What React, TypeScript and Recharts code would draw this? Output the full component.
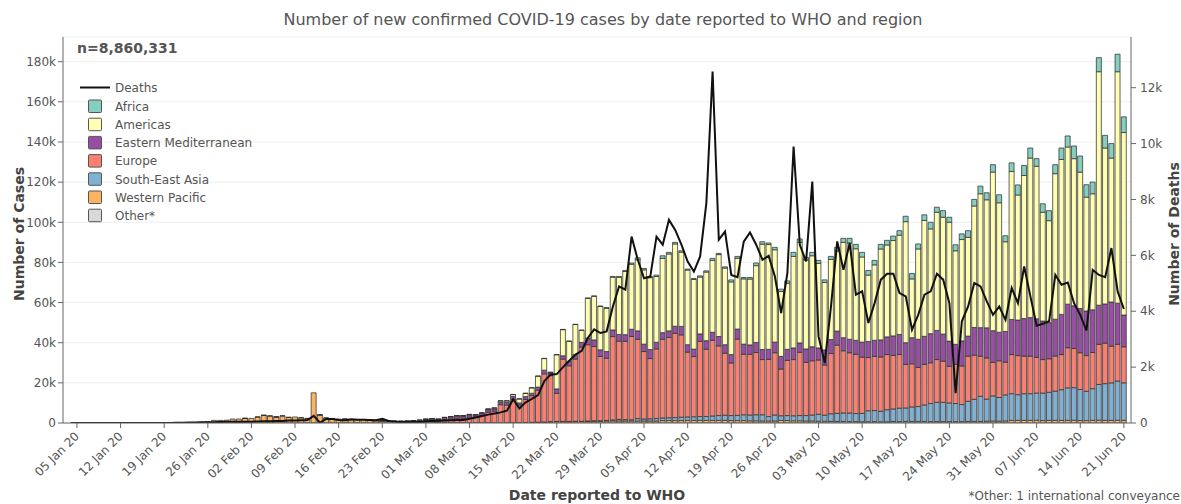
import { Bar, CartesianGrid, ComposedChart, Line, XAxis, YAxis } from 'recharts'

// Daily values from 04 Jan 20 to 21 Jun 20 (170 days)
const START_DAY = Date.UTC(2020, 0, 4)
const MONTHS = ['Jan', 'Feb', 'Mar', 'Apr', 'May', 'Jun']

const dateTicks = [
  '05 Jan 20', '12 Jan 20', '19 Jan 20', '26 Jan 20', '02 Feb 20', '09 Feb 20', '16 Feb 20',
  '23 Feb 20', '01 Mar 20', '08 Mar 20', '15 Mar 20', '22 Mar 20', '29 Mar 20', '05 Apr 20',
  '12 Apr 20', '19 Apr 20', '26 Apr 20', '03 May 20', '10 May 20', '17 May 20', '24 May 20',
  '31 May 20', '07 Jun 20', '14 Jun 20', '21 Jun 20',
]
const caseTicks = [0, 20000, 40000, 60000, 80000, 100000, 120000, 140000, 160000, 180000]
const deathTicks = [0, 2000, 4000, 6000, 8000, 10000, 12000]

const janNone = [0, 0, 0, 0, 0, 0, 0, 0, 0, 0, 0, 0, 0, 0, 0, 0, 0, 0, 0, 0, 0, 0, 0, 0, 0, 0, 0, 0]
const febNone = [0, 0, 0, 0, 0, 0, 0, 0, 0, 0, 0, 0, 0, 0, 0, 0, 0, 0, 0, 0, 0, 0, 0, 0, 0, 0, 0, 0, 0]

// only reported in Jan-Feb
const other = [
  ...janNone,
  0, 0, 0, 0, 10, 10, 41, 3, 6, 6, 65, 39, 44, 0, 67, 70, 99, 0, 88, 79, 13, 57, 0, 0, 14, 0, 14, 0, 0,
]

const westernPacific = [
  0, 0, 0, 0, 0, 0, 0, 41, 0, 0, 0, 0, 1, 4, 17, 136, 20, 151, 140, 97, 259, 441, 600, 1300, 1300, 1400, 2000, 2000,
  2300, 2300, 3000, 3800, 3500, 3000, 3500, 2800, 3000, 2600, 2200, 15000, 4000, 2500, 2100, 1900, 1900, 1500, 1700, 1700, 1300, 1100, 1000, 800, 700, 550, 500, 600, 550,
  600, 550, 300, 250, 200, 200, 150, 150, 150, 100, 100, 100, 100, 100, 150, 150, 200, 250, 350, 400, 600, 700, 700, 650, 750, 750, 800, 850, 850, 1000, 1050,
  1000, 1000, 1000, 1000, 1000, 1000, 1000, 1200, 1200, 1200, 1200, 1300, 1300, 1300, 1300, 1300, 1300, 1300, 1200, 1200, 1200, 1100, 1100, 1000, 1000, 1000, 1300, 1200, 1100, 1100,
  1000, 1000, 900, 900, 800, 800, 800, 700, 700, 600, 600, 700, 600, 600, 800, 700, 800, 800, 800, 800, 700, 700, 700, 700, 700, 700, 800, 800, 800, 900, 1000,
  900, 1000, 1300, 1300, 1300, 1300, 1400, 1200, 1300, 1300, 1300, 1300, 1400, 1200, 1200, 1300, 1400, 1300, 1300, 1400, 1300,
]

const southEastAsia = [
  ...janNone,
  ...febNone,
  1, 0, 2, 20, 10, 2, 5, 10, 10, 15, 15, 20, 20, 30, 30, 40, 40, 60, 50, 100, 100, 100, 100, 150, 100, 100, 200, 250, 300, 300, 500,
  800, 700, 600, 1200, 1000, 1100, 1200, 1300, 1400, 1500, 1700, 1700, 1800, 1900, 1900, 2200, 2400, 2600, 2500, 2600, 2900, 2900, 3000, 3100, 2200, 3000, 2300, 2500, 2500, 2600,
  2700, 3000, 3500, 3000, 3800, 4000, 4200, 4300, 4000, 4200, 5500, 5500, 5300, 6000, 6200, 6700, 6700, 7200, 7400, 8200, 9000, 9600, 9600, 9300, 9000, 8500, 10000, 11000, 12500, 11000, 12500,
  11800, 13000, 13300, 12800, 13300, 13300, 13500, 13700, 14000, 14600, 15300, 16200, 16200, 15500, 14600, 15800, 17800, 18300, 18700, 19500, 18700,
]

const europe = [
  ...janNone,
  2, 0, 1, 1, 2, 3, 1, 5, 0, 4, 1, 0, 1, 2, 1, 0, 1, 0, 0, 0, 1, 20, 80, 110, 150, 200, 250, 350, 500,
  700, 900, 800, 1500, 1800, 2200, 2200, 2700, 2900, 3600, 5200, 5800, 9000, 8800, 11500, 8800, 11500, 13300, 16000, 24000, 22900, 14000, 31000, 27700, 31000, 37000, 38000, 37000, 32000, 31000, 41500,
  39000, 39000, 41500, 39500, 33600, 30000, 34700, 39200, 40000, 42000, 41000, 32300, 30000, 37500, 33600, 37700, 34700, 30900, 26200, 38000, 30200, 30200, 31000, 27500, 28500, 31000, 23300, 27500, 28000, 31500,
  26500, 27000, 27000, 25000, 30000, 34000, 31000, 30000, 29500, 28000, 26500, 27000, 27000, 27500, 26700, 26700, 21700, 21500, 19500, 20200, 20300, 21300, 20500, 18300, 19500, 19200, 22500, 22000, 20000, 20500, 16700,
  18300, 16300, 19500, 19500, 18700, 18700, 17800, 16700, 16700, 17500, 17500, 20000, 19500, 18300, 17800, 18000, 20000, 20200, 18300, 18300, 18000,
]

const easternMediterranean = [
  ...janNone,
  0, 0, 0, 0, 0, 0, 0, 0, 0, 0, 0, 0, 0, 0, 0, 0, 0, 0, 0, 0, 1, 20, 30, 60, 100, 150, 200, 250, 400,
  550, 700, 750, 950, 1100, 1200, 1200, 1250, 1000, 1100, 1300, 1100, 1200, 1300, 1600, 1000, 1400, 1200, 1500, 1800, 1300, 2200, 1700, 2200, 2200, 2300, 3300, 3300, 3300, 3300, 3300,
  3300, 3300, 3600, 4200, 3700, 4500, 3300, 3300, 3300, 3500, 4200, 3700, 3700, 3700, 4200, 4000, 4700, 4200, 4200, 5000, 5000, 4700, 5000, 5000, 5000, 5300, 6300, 5500, 5800, 4700,
  6700, 7000, 6000, 7500, 7000, 7000, 6500, 6700, 7000, 7500, 8000, 8000, 8500, 8800, 9700, 10000, 10800, 13000, 14000, 14000, 14500, 14500, 13500, 12500, 10000, 12500, 10000, 13800, 14200, 15000, 15800,
  14200, 15300, 17500, 17700, 18700, 19200, 19200, 19200, 18000, 18300, 20000, 21700, 21300, 22000, 22200, 21300, 19500, 19500, 22000, 20500, 15800,
]

const americas = [
  ...janNone,
  1, 0, 0, 2, 0, 1, 0, 0, 0, 0, 0, 0, 1, 0, 0, 0, 0, 0, 0, 0, 0, 0, 2, 10, 0, 5, 10, 15, 30,
  30, 40, 40, 60, 80, 100, 100, 150, 150, 200, 350, 450, 700, 800, 900, 2000, 1600, 2700, 5400, 5800, 300, 17000, 13000, 10000, 15000, 6000, 19800, 21700, 21600, 21600, 26300,
  28500, 31500, 32400, 35400, 37000, 35800, 32800, 37000, 38300, 41000, 37000, 37200, 34700, 28300, 34200, 35800, 40800, 38200, 36200, 35300, 32500, 32800, 38300, 52500, 52200, 46000, 32300, 32900, 45600, 50100,
  44300, 45300, 42100, 33600, 39900, 39900, 47500, 48000, 45600, 42400, 33100, 37600, 45300, 45800, 47500, 49500, 60300, 29300, 45000, 57700, 52200, 58900, 58200, 59200, 46600, 50500, 49200, 60500, 66700, 63800, 79000,
  64500, 44700, 73700, 62300, 71300, 79500, 76000, 54200, 50800, 72500, 77200, 78300, 73300, 68000, 56700, 57800, 116300, 77700, 71700, 115300, 90900,
]

const africa = [
  ...janNone,
  ...febNone,
  1, 2, 2, 3, 5, 5, 10, 10, 10, 20, 20, 30, 30, 30, 50, 60, 80, 80, 100, 100, 100, 100, 150, 100, 150, 150, 200, 200, 250, 300, 350,
  400, 500, 600, 1000, 700, 600, 700, 1300, 800, 800, 700, 500, 500, 600, 600, 1000, 600, 600, 1000, 900, 700, 800, 1300, 1200, 800, 1200, 1200, 1200, 2000, 1700,
  1300, 1700, 1500, 1300, 1500, 1800, 2000, 2300, 2200, 2300, 2300, 2200, 2300, 2300, 2200, 2200, 2700, 2700, 2500, 2800, 3300, 2500, 3300, 2500, 3000, 2800, 3300, 3300, 3800, 3500, 3700,
  4000, 3000, 4300, 5000, 5000, 5000, 3800, 4200, 5000, 4500, 5700, 5500, 6300, 8000, 6200, 5800, 7000, 6300, 7200, 8700, 7800,
]

const deaths = [
  0, 0, 0, 0, 0, 0, 0, 1, 0, 0, 0, 0, 0, 1, 0, 0, 3, 9, 8, 16, 15, 24, 26, 26, 38, 43, 46, 45,
  46, 45, 57, 64, 66, 73, 73, 86, 89, 97, 108, 254, 13, 143, 142, 106, 98, 136, 115, 118, 109, 97, 150, 71, 52, 29, 44, 47, 35,
  60, 70, 80, 90, 100, 110, 110, 150, 200, 250, 300, 340, 380, 440, 850, 520, 740, 860, 1000, 1500, 1730, 1750, 2000, 2230, 2450, 2580, 3050, 3350, 3220, 3280, 4170,
  4890, 4770, 6670, 5840, 5180, 5240, 6670, 6380, 7270, 6910, 6380, 5780, 5420, 5960, 7870, 12580, 6560, 6850, 5300, 5220, 6490, 6820, 6380, 5840, 5980, 5240, 3930, 5360, 9890, 6380,
  5780, 8640, 3100, 2150, 4170, 6500, 5480, 6440, 4590, 4710, 3580, 4290, 5130, 5340, 5340, 4650, 4530, 3340, 3870, 4590, 4710, 5340, 5130, 4290, 1070, 3640, 4170, 5010, 4890, 4350, 3870,
  4170, 3690, 4830, 4290, 5600, 4530, 3480, 3550, 3640, 5300, 4950, 5030, 4290, 3870, 3310, 5480, 5300, 5220, 6260, 4710, 4080,
]

// stack order: bottom first
const regions = [
  { key: 'other', name: 'Other*', color: '#d9d9d9', values: other },
  { key: 'wpr', name: 'Western Pacific', color: '#fdb462', values: westernPacific },
  { key: 'sear', name: 'South-East Asia', color: '#80b1d3', values: southEastAsia },
  { key: 'eur', name: 'Europe', color: '#fb8072', values: europe },
  { key: 'emr', name: 'Eastern Mediterranean', color: '#984ea3', values: easternMediterranean },
  { key: 'amr', name: 'Americas', color: '#ffffb3', values: americas },
  { key: 'afr', name: 'Africa', color: '#86cfc0', values: africa },
]

function dayLabel(i: number) {
  const d = new Date(START_DAY + i * 86400000)
  return `${String(d.getUTCDate()).padStart(2, '0')} ${MONTHS[d.getUTCMonth()]} 20`
}

const data = westernPacific.map((_, i) => {
  const row: Record<string, string | number> = { date: dayLabel(i), deaths: deaths[i] }
  regions.forEach((r) => {
    row[r.key] = r.values[i] ?? 0
  })
  return row
})

const fmtK = (v: number) => (v === 0 ? '0' : `${v / 1000}k`)

function DateTick({ x, y, payload }: any) {
  const ax = x + 3
  const ay = y + 9
  return (
    <text x={ax} y={ay} transform={`rotate(-45 ${ax} ${ay})`} textAnchor="end" fontSize={12} fill="#555">
      {payload.value}
    </text>
  )
}

const TEXT = '#555'
const AXIS = '#666'

export default function App() {
  const legend = [...regions].reverse()
  return (
    <div style={{ position: 'absolute', left: 0, top: 0, width: 1181, height: 504, fontFamily: '"DejaVu Sans", sans-serif', background: '#fff' }}>
      <ComposedChart width={1181} height={504} data={data} margin={{ top: 37, right: 0, bottom: 0, left: 0 }} barCategoryGap="8%">
        <CartesianGrid vertical={false} stroke="#eeeeee" yAxisId="cases" />
        <XAxis
          dataKey="date"
          ticks={dateTicks}
          interval={0}
          tick={<DateTick />}
          tickSize={5}
          tickMargin={0}
          height={81}
          padding={{ left: 4.6, right: 4 }}
          axisLine={{ stroke: AXIS }}
          tickLine={{ stroke: AXIS }}
        />
        <YAxis
          yAxisId="cases"
          domain={[0, 192300]}
          ticks={caseTicks}
          tickFormatter={fmtK}
          width={63}
          tickSize={5}
          tickMargin={2}
          tick={{ fill: TEXT, fontSize: 12 }}
          axisLine={{ stroke: AXIS }}
          tickLine={{ stroke: AXIS }}
          allowDataOverflow
        />
        <YAxis
          yAxisId="deaths"
          orientation="right"
          domain={[0, 13814]}
          ticks={deathTicks}
          tickFormatter={fmtK}
          width={50}
          tickSize={5}
          tickMargin={4}
          tick={{ fill: TEXT, fontSize: 12 }}
          axisLine={{ stroke: AXIS }}
          tickLine={{ stroke: AXIS }}
          allowDataOverflow
        />
        {regions.map((r) => (
          <Bar
            key={r.key}
            yAxisId="cases"
            dataKey={r.key}
            name={r.name}
            stackId="cases"
            fill={r.color}
            stroke="#333"
            strokeWidth={0.9}
            strokeOpacity={0.85}
            isAnimationActive={false}
          />
        ))}
        <Line yAxisId="deaths" type="linear" dataKey="deaths" stroke="#111" strokeWidth={2} dot={false} isAnimationActive={false} />
      </ComposedChart>

      <svg width={1181} height={504} style={{ position: 'absolute', left: 0, top: 0, pointerEvents: 'none' }}>
        <text x={603} y={25} textAnchor="middle" fontSize={16} fill={TEXT}>
          Number of new confirmed COVID-19 cases by date reported to WHO and region
        </text>
        <text x={77} y={52.5} fontSize={14} fontWeight="bold" fill={TEXT}>
          n=8,860,331
        </text>
        <line x1={80} x2={110} y1={87.5} y2={87.5} stroke="#111" strokeWidth={2} />
        <text x={115} y={92} fontSize={12} fill={TEXT}>
          Deaths
        </text>
        {legend.map((r, i) => (
          <g key={r.key}>
            <rect x={88.5} y={100 + i * 18.2} width={13} height={12.5} rx={1} fill={r.color} stroke="#555" strokeWidth={1} />
            <text x={115} y={110.7 + i * 18.2} fontSize={12} fill={TEXT}>
              {r.name}
            </text>
          </g>
        ))}
        <text transform="translate(24,234) rotate(-90)" textAnchor="middle" fontSize={14} fontWeight="bold" fill="#444">
          Number of Cases
        </text>
        <text transform="translate(1179,234) rotate(-90)" textAnchor="middle" fontSize={14} fontWeight="bold" fill="#444">
          Number of Deaths
        </text>
        <text x={597} y={500} textAnchor="middle" fontSize={14} fontWeight="bold" fill="#444">
          Date reported to WHO
        </text>
        <text x={1180} y={500} textAnchor="end" fontSize={12} fill={TEXT}>
          *Other: 1 international conveyance
        </text>
      </svg>
    </div>
  )
}
